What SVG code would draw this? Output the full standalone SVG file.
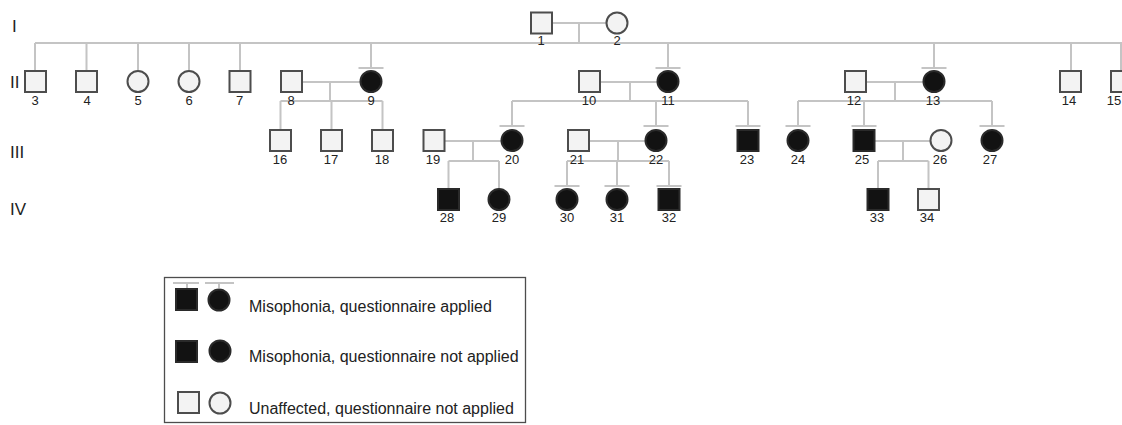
<svg xmlns="http://www.w3.org/2000/svg" width="1122" height="425" viewBox="0 0 1122 425">
<style>
.ln{stroke:#c4c4c4;stroke-width:2;fill:none}
.u{fill:#f3f3f3;stroke:#4d4d4d;stroke-width:2}
.a{fill:#121212;stroke:#2a2a2a;stroke-width:2}
.lb{font-family:"Liberation Sans",Arial,sans-serif;font-size:13px;fill:#222;text-anchor:middle}
.g{font-family:"Liberation Sans",Arial,sans-serif;font-size:17px;fill:#222}
.lt{font-family:"Liberation Sans",Arial,sans-serif;font-size:16px;fill:#222}
</style>
<rect width="1122" height="425" fill="#fff"/>
<g id="generations">
<text class="g" x="12" y="32">I</text>
<text class="g" x="10" y="88">II</text>
<text class="g" x="10" y="158">III</text>
<text class="g" x="10" y="215">IV</text>
</g>
<g id="connectors">
<path class="ln" d="M552 23H606M579 23V43M35 43H1122"/>
<path class="ln" d="M35 43V70M86.5 43V70M138 43V70M189 43V70M240 43V70M371 43V68M668 43V68M934 43V68M1071 43V70M1121 43V70"/>
<path class="ln" d="M358.5 68H383.5M655.5 68H680.5M921.5 68H946.5"/>
<path class="ln" d="M302 82H360M330 82V101M280.5 101H382.5M280.5 101V129M331.5 101V129M382.5 101V129"/>
<path class="ln" d="M601 82H657M630 82V101M512 101H748M512 101V126M656 101V126M748 101V126"/>
<path class="ln" d="M499.5 126H524.5M643.5 126H668.5M735.5 126H760.5"/>
<path class="ln" d="M867 82H923M895 82V101M798 101H992M798 101V126M864 101V126M992 101V126"/>
<path class="ln" d="M785.5 126H810.5M851.5 126H876.5M979.5 126H1004.5"/>
<path class="ln" d="M445 141H501M473 141V161M448.5 161H499M448.5 161V188M499 161V188"/>
<path class="ln" d="M590 141H645M618 141V161M567 161H669M567 161V186M617 161V186M669 161V186"/>
<path class="ln" d="M554.5 186H579.5M604.5 186H629.5M656.5 186H681.5"/>
<path class="ln" d="M875 141H930M903 141V161M878 161H928.5M878 161V188M928.5 161V188"/>
</g>
<g id="n1"><rect class="u" x="531" y="12.5" width="21" height="21"/><text class="lb" x="541" y="45">1</text></g>
<g id="n2"><circle class="u" cx="617" cy="23" r="10.5"/><text class="lb" x="617" y="45">2</text></g>
<g id="n3"><rect class="u" x="25" y="71" width="21" height="21"/><text class="lb" x="35" y="105">3</text></g>
<g id="n4"><rect class="u" x="76" y="71" width="21" height="21"/><text class="lb" x="87" y="105">4</text></g>
<g id="n5"><circle class="u" cx="138" cy="81.5" r="10.5"/><text class="lb" x="138" y="105">5</text></g>
<g id="n6"><circle class="u" cx="189" cy="81.5" r="10.5"/><text class="lb" x="189" y="105">6</text></g>
<g id="n7"><rect class="u" x="229.5" y="71" width="21" height="21"/><text class="lb" x="239.5" y="105">7</text></g>
<g id="n8"><rect class="u" x="281" y="71" width="21" height="21"/><text class="lb" x="291" y="105">8</text></g>
<g id="n9"><circle class="a" cx="371" cy="81.5" r="10.5"/><text class="lb" x="371" y="105">9</text></g>
<g id="n10"><rect class="u" x="579" y="71" width="21" height="21"/><text class="lb" x="589" y="105">10</text></g>
<g id="n11"><circle class="a" cx="668" cy="81.5" r="10.5"/><text class="lb" x="668" y="105">11</text></g>
<g id="n12"><rect class="u" x="845" y="71" width="21" height="21"/><text class="lb" x="854" y="105">12</text></g>
<g id="n13"><circle class="a" cx="934" cy="81.5" r="10.5"/><text class="lb" x="933" y="105">13</text></g>
<g id="n14"><rect class="u" x="1060" y="71" width="21" height="21"/><text class="lb" x="1069" y="105">14</text></g>
<g id="n15"><rect class="u" x="1111" y="71" width="21" height="21"/><text class="lb" x="1114" y="105">15</text></g>
<g id="n16"><rect class="u" x="270" y="130" width="21" height="21"/><text class="lb" x="280" y="164">16</text></g>
<g id="n17"><rect class="u" x="321" y="130" width="21" height="21"/><text class="lb" x="331" y="164">17</text></g>
<g id="n18"><rect class="u" x="372" y="130" width="21" height="21"/><text class="lb" x="382" y="164">18</text></g>
<g id="n19"><rect class="u" x="423.5" y="130" width="21" height="21"/><text class="lb" x="433" y="164">19</text></g>
<g id="n20"><circle class="a" cx="512" cy="140.5" r="10.5"/><text class="lb" x="512" y="164">20</text></g>
<g id="n21"><rect class="u" x="568" y="130" width="21" height="21"/><text class="lb" x="577" y="164">21</text></g>
<g id="n22"><circle class="a" cx="656" cy="140.5" r="10.5"/><text class="lb" x="656" y="164">22</text></g>
<g id="n23"><rect class="a" x="737.5" y="130" width="21" height="21"/><text class="lb" x="747" y="164">23</text></g>
<g id="n24"><circle class="a" cx="798" cy="140.5" r="10.5"/><text class="lb" x="798" y="164">24</text></g>
<g id="n25"><rect class="a" x="853.5" y="130" width="21" height="21"/><text class="lb" x="862" y="164">25</text></g>
<g id="n26"><circle class="u" cx="941" cy="140.5" r="10.5"/><text class="lb" x="940" y="164">26</text></g>
<g id="n27"><circle class="a" cx="992" cy="140.5" r="10.5"/><text class="lb" x="990" y="164">27</text></g>
<g id="n28"><rect class="a" x="438" y="189" width="21" height="21"/><text class="lb" x="447" y="222">28</text></g>
<g id="n29"><circle class="a" cx="499" cy="199.5" r="10.5"/><text class="lb" x="499" y="222">29</text></g>
<g id="n30"><circle class="a" cx="567" cy="199.5" r="10.5"/><text class="lb" x="567" y="222">30</text></g>
<g id="n31"><circle class="a" cx="617" cy="199.5" r="10.5"/><text class="lb" x="617" y="222">31</text></g>
<g id="n32"><rect class="a" x="658.5" y="189" width="21" height="21"/><text class="lb" x="669" y="222">32</text></g>
<g id="n33"><rect class="a" x="867.5" y="189" width="21" height="21"/><text class="lb" x="877" y="222">33</text></g>
<g id="n34"><rect class="u" x="918" y="189" width="21" height="21"/><text class="lb" x="927" y="222">34</text></g>
<g id="legend">
<rect x="164.5" y="277.5" width="361" height="145" fill="#fff" stroke="#4d4d4d" stroke-width="1.3"/>
<path class="ln" d="M173 283H199M205 283H234M187 283V288M219 283V288"/>
<rect class="a" x="176" y="289" width="21" height="21"/>
<circle class="a" cx="219" cy="300" r="10.5"/>
<text class="lt" x="249" y="312">Misophonia, questionnaire applied</text>
<rect class="a" x="176" y="341" width="21" height="21"/>
<circle class="a" cx="220" cy="351" r="10.5"/>
<text class="lt" x="249" y="362">Misophonia, questionnaire not applied</text>
<rect class="u" x="178" y="392" width="21" height="21"/>
<circle class="u" cx="220" cy="403" r="10.5"/>
<text class="lt" x="249" y="414">Unaffected, questionnaire not applied</text>
</g>
</svg>
